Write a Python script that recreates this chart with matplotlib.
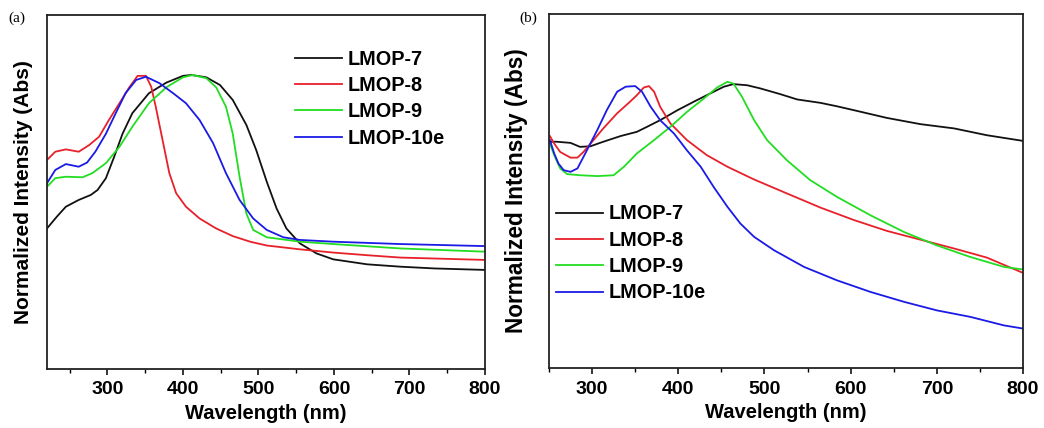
import matplotlib

matplotlib.use("Agg")
import matplotlib.pyplot as plt
from matplotlib.ticker import MultipleLocator

BLACK, RED, GREEN, BLUE = "#111111", "#e8202a", "#22dd22", "#1a1ae6"
NAMES = ["LMOP-7", "LMOP-8", "LMOP-9", "LMOP-10e"]
COLORS = [BLACK, RED, GREEN, BLUE]

# -- panel (a): normalized absorbance, peak = 1 -------------------------------
a_wl_7 = [220, 233, 245, 262, 278, 287, 298, 309, 320, 333, 355, 378, 400, 411,
          431, 449, 466, 484, 497, 511, 524, 537, 555, 577, 599, 644, 688, 733, 800]
a_ab_7 = [0.478, 0.518, 0.552, 0.575, 0.592, 0.609, 0.649, 0.722, 0.800, 0.870,
          0.938, 0.974, 0.997, 1.000, 0.992, 0.966, 0.915, 0.830, 0.745, 0.637,
          0.546, 0.478, 0.427, 0.393, 0.373, 0.356, 0.348, 0.342, 0.337]

a_wl_8 = [220, 231, 245, 262, 276, 289, 302, 316, 329, 340, 351, 358, 364, 373,
          382, 391, 404, 422, 444, 466, 489, 511, 555, 599, 644, 688, 800]
a_ab_8 = [0.711, 0.739, 0.747, 0.739, 0.762, 0.790, 0.847, 0.904, 0.958, 0.997,
          0.997, 0.960, 0.892, 0.779, 0.666, 0.598, 0.552, 0.512, 0.478, 0.452,
          0.433, 0.420, 0.407, 0.396, 0.387, 0.379, 0.371]

a_wl_9 = [220, 231, 245, 267, 280, 298, 316, 333, 355, 378, 400, 413, 431, 444,
          457, 466, 475, 484, 493, 511, 555, 599, 688, 800]
a_ab_9 = [0.620, 0.649, 0.654, 0.652, 0.666, 0.700, 0.756, 0.824, 0.904, 0.958,
          0.992, 1.000, 0.989, 0.958, 0.892, 0.800, 0.654, 0.529, 0.473, 0.448,
          0.433, 0.425, 0.410, 0.399]

a_wl_10 = [220, 231, 245, 262, 273, 284, 298, 311, 324, 338, 351, 369, 387, 404,
           422, 440, 457, 475, 493, 511, 533, 555, 599, 688, 800]
a_ab_10 = [0.632, 0.677, 0.697, 0.688, 0.702, 0.739, 0.800, 0.870, 0.938, 0.983,
           0.994, 0.972, 0.938, 0.904, 0.847, 0.768, 0.666, 0.575, 0.512, 0.473,
           0.448, 0.439, 0.433, 0.425, 0.418]

# -- panel (b): normalized intensity, peak = 1 --------------------------------
b_wl_7 = [251, 259, 275, 286, 298, 313, 333, 352, 364, 379, 399, 418, 437, 453,
          464, 480, 495, 518, 538, 565, 584, 604, 642, 681, 720, 758, 800]
b_ab_7 = [0.797, 0.797, 0.793, 0.779, 0.781, 0.797, 0.817, 0.832, 0.850, 0.873,
          0.908, 0.938, 0.967, 0.991, 1.000, 0.996, 0.985, 0.965, 0.946, 0.934,
          0.922, 0.908, 0.881, 0.859, 0.844, 0.820, 0.800]

b_wl_8 = [251, 256, 263, 275, 283, 290, 300, 313, 329, 344, 352, 360, 366, 372,
          379, 391, 410, 433, 457, 488, 526, 565, 604, 642, 681, 720, 758, 800]
b_ab_8 = [0.817, 0.791, 0.761, 0.741, 0.741, 0.761, 0.797, 0.844, 0.897, 0.938,
          0.961, 0.988, 0.993, 0.973, 0.920, 0.861, 0.803, 0.750, 0.709, 0.664,
          0.615, 0.565, 0.521, 0.483, 0.452, 0.421, 0.389, 0.335]

b_wl_9 = [251, 256, 263, 271, 286, 306, 325, 337, 352, 372, 391, 410, 430, 445,
          457, 464, 474, 488, 503, 526, 553, 584, 623, 662, 700, 739, 778, 800]
b_ab_9 = [0.791, 0.750, 0.703, 0.683, 0.679, 0.676, 0.679, 0.709, 0.756, 0.803,
          0.850, 0.902, 0.950, 0.988, 1.008, 1.002, 0.955, 0.873, 0.803, 0.732,
          0.662, 0.603, 0.538, 0.479, 0.432, 0.391, 0.356, 0.347]

b_wl_10 = [251, 256, 261, 267, 275, 283, 294, 306, 317, 329, 339, 350, 358, 368,
           379, 395, 410, 426, 441, 457, 472, 488, 511, 546, 584, 623, 662, 700,
           739, 778, 800]
b_ab_10 = [0.803, 0.756, 0.720, 0.697, 0.691, 0.703, 0.767, 0.838, 0.908, 0.973,
           0.991, 0.993, 0.973, 0.920, 0.873, 0.826, 0.767, 0.709, 0.638, 0.568,
           0.509, 0.462, 0.415, 0.356, 0.309, 0.268, 0.233, 0.203, 0.180, 0.150,
           0.139]

plt.rcParams.update({
    "font.family": ["Liberation Sans", "DejaVu Sans"],
    "font.weight": "bold",
    "axes.linewidth": 1.3,
    "axes.edgecolor": "#222222",
    "lines.linewidth": 1.3,
})

fig = plt.figure(figsize=(10.44, 4.28), dpi=100)
ax_a = fig.add_axes([47 / 1044, 59 / 428, 438 / 1044, 354 / 428])
ax_b = fig.add_axes([549 / 1044, 60 / 428, 474 / 1044, 354 / 428])

LEG = dict(frameon=False, handlelength=2.35, handletextpad=0.3, labelspacing=0.37,
           borderpad=0, borderaxespad=0, prop={"weight": "bold", "size": 14.3})


def _style(ax, xlo, ylim, ysize, ypad):
    ax.set_xlim(xlo, 800)
    ax.set_ylim(0, ylim)
    ax.xaxis.set_major_locator(MultipleLocator(100))
    ax.xaxis.set_minor_locator(MultipleLocator(50))
    ax.tick_params(axis="x", which="major", direction="out", length=4, width=1.1,
                   labelsize=14, pad=5)
    ax.tick_params(axis="x", which="minor", direction="out", length=3, width=1.0)
    ax.set_yticks([])
    for t in ax.get_xticklabels():
        t.set_fontweight("bold")
    ax.set_xlabel("Wavelength (nm)", fontsize=14.5, fontweight="bold", labelpad=4)
    ax.set_ylabel("Normalized Intensity (Abs)", fontsize=ysize, fontweight="bold",
                  labelpad=ypad)


series_a = [(a_wl_7, a_ab_7), (a_wl_8, a_ab_8), (a_wl_9, a_ab_9), (a_wl_10, a_ab_10)]
for (x, y), c, n in zip(series_a, COLORS, NAMES):
    ax_a.plot(x, y, color=c, label=n)
_style(ax_a, 220, 1.204, 15, 10)
ax_a.legend(loc="upper left", bbox_to_anchor=(0.566, 0.902), **LEG)

series_b = [(b_wl_7, b_ab_7), (b_wl_8, b_ab_8), (b_wl_9, b_ab_9), (b_wl_10, b_ab_10)]
for (x, y), c, n in zip(series_b, COLORS, NAMES):
    ax_b.plot(x, y, color=c, label=n)
_style(ax_b, 250, 1.247, 16.3, 15)
ax_b.legend(loc="upper left", bbox_to_anchor=(0.015, 0.462), **LEG)

fig.text(8 / 1044, 1 - 18 / 428, "(a)", family="Liberation Serif", fontsize=11,
         fontweight="normal", va="center")
fig.text(519 / 1044, 1 - 18 / 428, "(b)", family="Liberation Serif", fontsize=11,
         fontweight="normal", va="center")

fig.savefig("out.png", dpi=100)
